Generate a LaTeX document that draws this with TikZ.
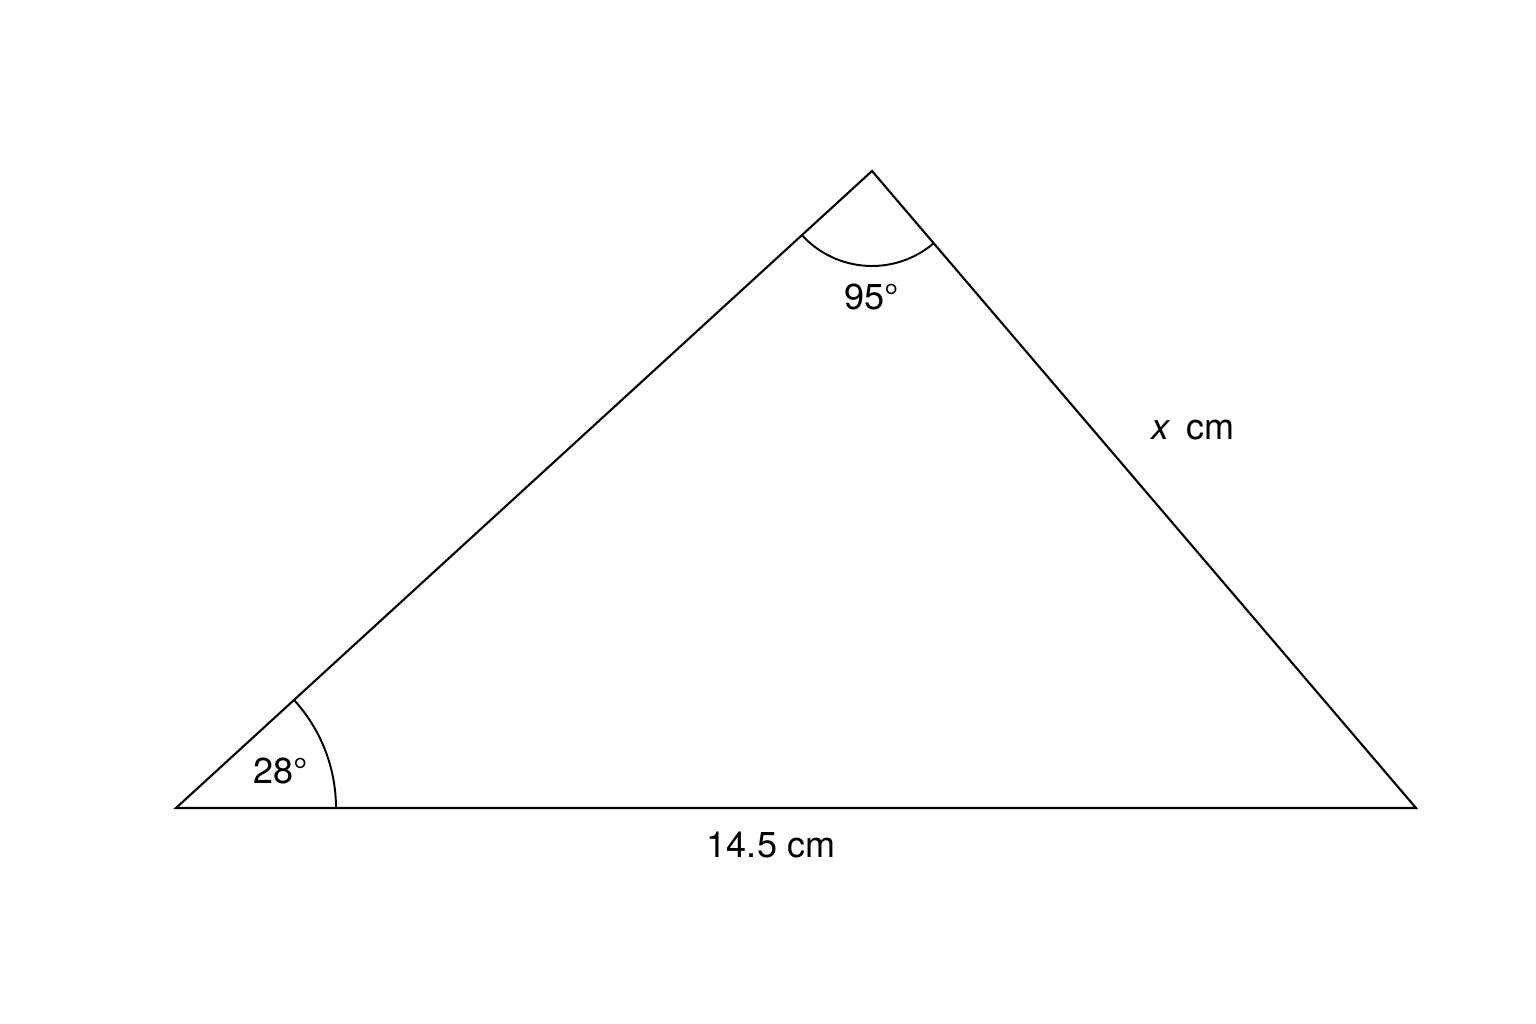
\documentclass[tikz,border=0pt]{standalone}
\usepackage{fontspec}
\setmainfont{TeX Gyre Heros}
\begin{document}
\begin{tikzpicture}[x=0.02cm,y=-0.02cm,
  edge/.style={line width=1.2pt,line join=miter},
  arcline/.style={line width=1.1pt},
  lbl/.style={font=\fontsize{20.5}{24}\selectfont,inner sep=0pt}]
\useasboundingbox[fill=white] (0,0) rectangle (1536,1024);
\coordinate (A) at (176,808);
\coordinate (B) at (1416,808);
\coordinate (C) at (872,171);
\draw[edge] (A) -- (B) -- (C) -- cycle;
\draw[arcline] (A) ++(160,0) arc[start angle=0,end angle=-42.46,radius=160];
\draw[arcline] (C) ++(-42.46-180:95) coordinate (c1);
\draw[arcline] (c1) arc[start angle=-222.46,end angle=-310.5,radius=95];
\node[lbl] (a28) at (281,771) {28°};
\node[lbl] (a95) at (872,297) {95°};
\node[lbl] (xcm) at (1193,430) {\textit{x}\hspace{0.45em}cm};
\node[lbl] (base) at (771,845) {14.5 cm};
\end{tikzpicture}
\end{document}
